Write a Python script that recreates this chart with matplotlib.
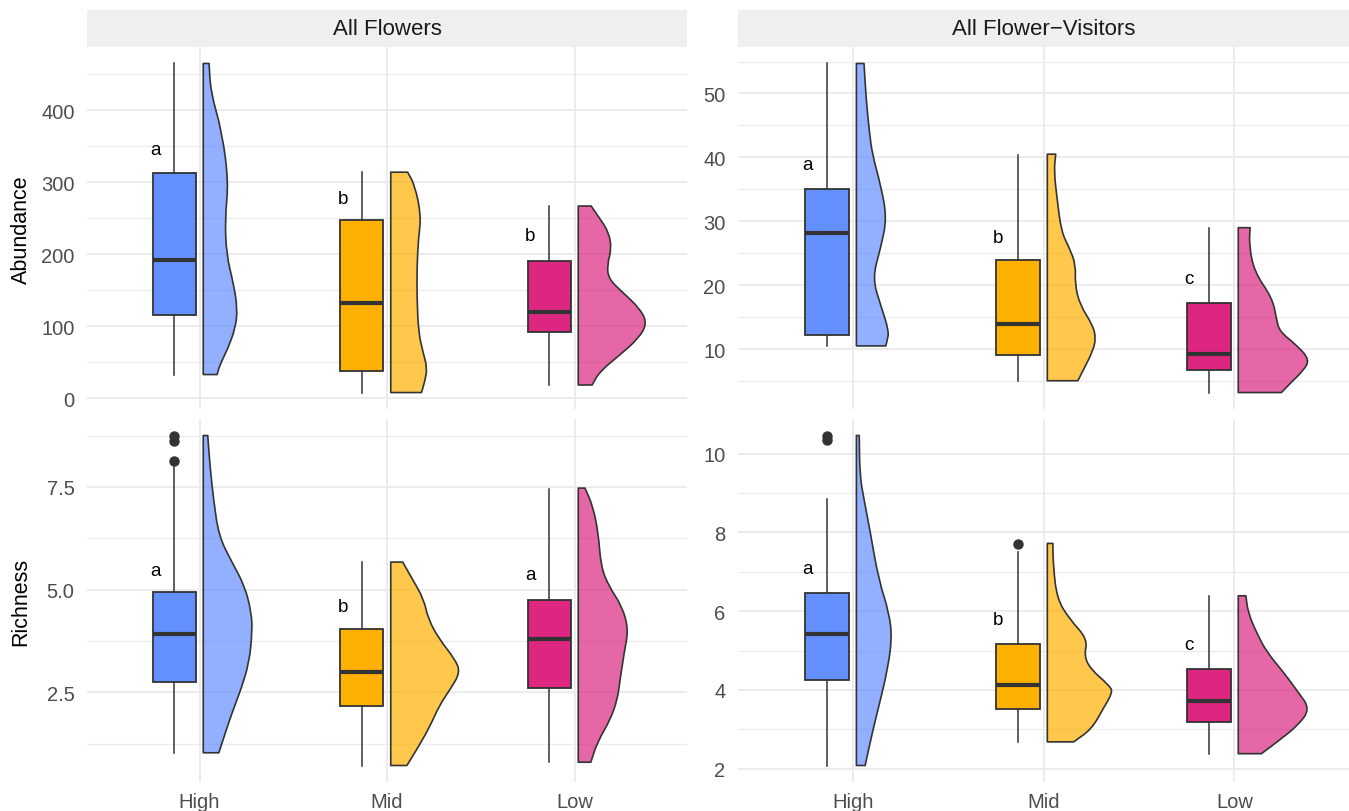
import matplotlib
matplotlib.use("Agg")
import matplotlib.pyplot as plt
import matplotlib.ticker as ticker
from matplotlib.path import Path
from matplotlib.patches import PathPatch

plt.rcParams['font.family'] = ['Liberation Sans', 'DejaVu Sans']

W, H = 1349, 812

groups = ["High", "Mid", "Low"]
box_cols = ["#648FFF", "#FFB000", "#DC267F"]

# ---- All Flowers / Abundance ----
fa_box = [[33, 115, 192, 313, 465], [8, 38, 132, 248, 314], [18.5, 91.6, 120, 190.5, 267]]
fa_out = [[], [], []]
fa_let = ["a", "b", "b"]
fa_let_y = [346, 278, 226]
fa_vy = [[465, 425, 370, 300, 250, 199, 162, 125, 97, 69, 46, 33],
         [314, 296, 254, 222, 185, 139, 92, 65, 42, 23, 8],
         [267, 250, 231, 208, 185, 166, 148, 125, 104, 83, 60, 37, 18.5]]
fa_vw = [[0.031, 0.040, 0.100, 0.135, 0.116, 0.124, 0.159, 0.183, 0.171, 0.131, 0.088, 0.074],
         [0.090, 0.128, 0.162, 0.148, 0.140, 0.140, 0.148, 0.171, 0.195, 0.181, 0.164],
         [0.069, 0.114, 0.162, 0.178, 0.154, 0.162, 0.233, 0.328, 0.368, 0.321, 0.221, 0.114, 0.074]]

# ---- All Flower-Visitors / Abundance ----
va_box = [[10.5, 12.2, 28.2, 35.05, 54.7], [5.05, 9.1, 13.9, 23.9, 40.4], [3.2, 6.7, 9.2, 17.2, 29.0]]
va_out = [[], [], []]
va_let = ["a", "b", "c"]
va_let_y = [38.9, 27.4, 21.0]
va_vy = [[54.7, 49.2, 44.0, 40.4, 35.7, 30.5, 25.8, 21.1, 16.9, 12.8, 11.2, 10.5],
         [40.5, 37.8, 33.6, 28.4, 25.8, 23.2, 20.1, 16.9, 13.8, 11.7, 9.6, 7.0, 5.05],
         [29.0, 26.3, 22.1, 18.0, 14.8, 12.8, 10.7, 8.3, 6.5, 4.9, 3.2]]
va_vw = [[0.040, 0.051, 0.068, 0.084, 0.127, 0.160, 0.127, 0.084, 0.127, 0.171, 0.160, 0.154],
         [0.044, 0.035, 0.051, 0.073, 0.116, 0.149, 0.145, 0.171, 0.237, 0.255, 0.237, 0.193, 0.160],
         [0.062, 0.057, 0.084, 0.178, 0.200, 0.215, 0.303, 0.376, 0.336, 0.281, 0.226]]

# ---- All Flowers / Richness ----
fr_box = [[1.03, 2.76, 3.91, 4.93, 8.04], [0.72, 2.16, 3.0, 4.04, 5.66], [0.80, 2.6, 3.79, 4.75, 7.45]]
fr_out = [[8.14, 8.62, 8.75], [], []]
fr_let = ["a", "b", "a"]
fr_let_y = [5.47, 4.6, 5.37]
fr_vy = [[8.75, 8.0, 7.19, 6.30, 5.66, 5.09, 4.44, 3.96, 3.23, 2.58, 2.01, 1.53, 1.03],
         [5.67, 5.25, 4.77, 4.28, 3.79, 3.31, 2.99, 2.58, 2.18, 1.69, 1.21, 0.72],
         [7.47, 7.03, 6.38, 5.57, 5.09, 4.60, 4.04, 3.47, 2.74, 2.34, 1.85, 1.29, 0.80]]
fr_vw = [[0.024, 0.036, 0.055, 0.083, 0.154, 0.221, 0.257, 0.261, 0.245, 0.202, 0.154, 0.119, 0.083],
         [0.064, 0.116, 0.176, 0.200, 0.259, 0.342, 0.371, 0.318, 0.259, 0.211, 0.152, 0.086],
         [0.036, 0.078, 0.107, 0.121, 0.162, 0.233, 0.268, 0.245, 0.221, 0.209, 0.173, 0.102, 0.067]]

# ---- All Flower-Visitors / Richness ----
vr_box = [[2.08, 4.26, 5.41, 6.46, 8.86], [2.68, 3.52, 4.13, 5.17, 7.49], [2.38, 3.18, 3.71, 4.52, 6.39]]
vr_out = [[10.34, 10.45], [7.70], []]
vr_let = ["a", "b", "c"]
vr_let_y = [7.08, 5.8, 5.14]
vr_vy = [[10.46, 9.43, 8.84, 8.0, 6.81, 5.97, 5.29, 4.45, 3.77, 2.93, 2.08],
         [7.72, 7.15, 6.31, 5.80, 5.29, 4.87, 4.53, 4.11, 3.94, 3.52, 3.01, 2.68],
         [6.39, 5.97, 5.46, 4.96, 4.45, 3.94, 3.52, 3.10, 2.68, 2.38]]
vr_vw = [[0.015, 0.018, 0.040, 0.073, 0.116, 0.171, 0.187, 0.160, 0.127, 0.084, 0.046],
         [0.029, 0.031, 0.051, 0.116, 0.211, 0.193, 0.226, 0.325, 0.343, 0.292, 0.233, 0.138],
         [0.040, 0.051, 0.095, 0.149, 0.237, 0.314, 0.376, 0.314, 0.204, 0.121]]

fig = plt.figure(figsize=(W / 100, H / 100), dpi=100)


def px_axes(x0, y0, x1, y1):
    return fig.add_axes([x0 / W, 1 - y1 / H, (x1 - x0) / W, (y1 - y0) / H])


def half_violin(ax, x0, ys, ws, color):
    # flat left side, smooth right outline (quadratic curves through midpoints)
    pts = [(x0 + w, y) for w, y in zip(ws, ys)]
    verts = [(x0, ys[0]), pts[0]]
    codes = [Path.MOVETO, Path.LINETO]
    mid = lambda a, b: ((a[0] + b[0]) / 2, (a[1] + b[1]) / 2)
    verts.append(mid(pts[0], pts[1]))
    codes.append(Path.LINETO)
    for k in range(1, len(pts) - 1):
        verts += [pts[k], mid(pts[k], pts[k + 1])]
        codes += [Path.CURVE3, Path.CURVE3]
    verts += [pts[-1], (x0, ys[-1]), (x0, ys[0])]
    codes += [Path.LINETO, Path.LINETO, Path.CLOSEPOLY]
    path = Path(verts, codes)
    ax.add_patch(PathPatch(path, facecolor=color, alpha=0.7, lw=0))
    ax.add_patch(PathPatch(path, facecolor='none', edgecolor='#333333', lw=1.2, joinstyle='round'))


def panel(ax, box, out, let, let_y, vy, vw, major, minor, fmt, show_x):
    for s in ax.spines.values():
        s.set_visible(False)
    ax.set_axisbelow(True)

    stats = []
    for i in range(3):
        b = box[i]
        stats.append(dict(whislo=b[0], q1=b[1], med=b[2], q3=b[3], whishi=b[4], fliers=out[i]))
    pos = [i + 1 - 0.134 for i in range(3)]
    bp = ax.bxp(stats, positions=pos, widths=0.23, patch_artist=True, showcaps=False,
                manage_ticks=False,
                boxprops=dict(edgecolor='#333333', lw=1.3),
                whiskerprops=dict(color='#333333', lw=1.1),
                medianprops=dict(color='#333333', lw=3),
                flierprops=dict(marker='o', markerfacecolor='#333333', markeredgecolor='#333333',
                                markersize=6.5))
    for patch, c in zip(bp['boxes'], box_cols):
        patch.set_facecolor(c)

    for i in range(3):
        half_violin(ax, i + 1 + 0.02, vy[i], vw[i], box_cols[i])
        ax.text(i + 1 - 0.237, let_y[i], let[i], ha='center', va='center', fontsize=13.5, color='black')

    lo = min(min(v) for v in vy + [[b[0]] for b in box])
    hi = max(max(v) for v in vy + [[b[4]] for b in box] + [o for o in out if o])
    pad = (hi - lo) * 0.05
    ax.set_ylim(lo - pad, hi + pad)
    ax.set_xlim(0.4, 3.6)

    ax.yaxis.set_major_locator(ticker.FixedLocator(major))
    ax.yaxis.set_minor_locator(ticker.FixedLocator(minor))
    ax.yaxis.set_major_formatter(ticker.FormatStrFormatter(fmt))
    ax.grid(which='major', axis='both', color='#EBEBEB', lw=1.3)
    ax.grid(which='minor', axis='y', color='#EBEBEB', lw=0.8)
    ax.tick_params(which='both', length=0, labelsize=14.5, labelcolor='#4D4D4D', pad=9)
    ax.set_xticks([1, 2, 3])
    if show_x:
        ax.set_xticklabels(groups)
        ax.tick_params(axis='x', pad=7)
    else:
        ax.set_xticklabels([])


def strip(x0, x1, label):
    s = px_axes(x0, 11, x1, 48)
    s.set_facecolor('#EFEFEF')
    s.set_xticks([])
    s.set_yticks([])
    for sp in s.spines.values():
        sp.set_visible(False)
    s.text(0.5, 0.5, label, ha='center', va='center', fontsize=16, color='#1A1A1A',
           transform=s.transAxes)


L0, L1 = 87, 687
R0, R1 = 738, 1349
T0, T1 = 48, 410
B0, B1 = 420, 783

ax1 = px_axes(L0, T0, L1, T1)
panel(ax1, fa_box, fa_out, fa_let, fa_let_y, fa_vy, fa_vw,
      [0, 100, 200, 300, 400], [50, 150, 250, 350, 450], '%d', False)
ax2 = px_axes(R0, T0, R1, T1)
panel(ax2, va_box, va_out, va_let, va_let_y, va_vy, va_vw,
      [10, 20, 30, 40, 50], [5, 15, 25, 35, 45, 55], '%d', False)
ax3 = px_axes(L0, B0, L1, B1)
panel(ax3, fr_box, fr_out, fr_let, fr_let_y, fr_vy, fr_vw,
      [2.5, 5.0, 7.5], [1.25, 3.75, 6.25, 8.75], '%.1f', True)
ax4 = px_axes(R0, B0, R1, B1)
panel(ax4, vr_box, vr_out, vr_let, vr_let_y, vr_vy, vr_vw,
      [2, 4, 6, 8, 10], [3, 5, 7, 9], '%d', True)

strip(L0, L1, "All Flowers")
strip(R0, R1, "All Flower\u2212Visitors")

fig.text(21 / W, 1 - 230 / H, "Abundance", rotation=90, ha='center', va='center', fontsize=15.5)
fig.text(21 / W, 1 - 602 / H, "Richness", rotation=90, ha='center', va='center', fontsize=15.5)

fig.savefig("out.png", dpi=100)
